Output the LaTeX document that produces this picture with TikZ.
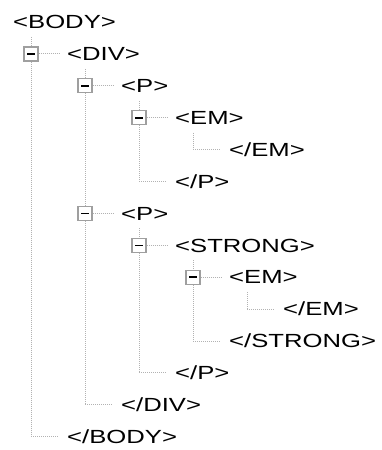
\documentclass[tikz,border=0pt]{standalone}
\usepackage{fontspec}
\setmainfont[FakeStretch=1.35]{Liberation Sans}
\usetikzlibrary{positioning}

\tikzset{
  tag/.style={anchor=west,inner sep=0pt,text height=13.5pt,text depth=0pt,
    font=\fontsize{19}{21}\selectfont},
  toggle/.style={draw=gray!75,line width=1.3pt,fill=white,minimum size=14pt,inner sep=0pt,
    path picture={\draw[black,line width=1.6pt]
      ([xshift=-4pt]path picture bounding box.center) --
      ([xshift=4pt]path picture bounding box.center);}},
  dots/.style={gray!60,line width=1pt,dash pattern=on 1pt off 1pt},
  stem/.style={dots,shorten <=8pt},
  twig/.style={dots,shorten >=8pt},
}

\begin{document}
\begin{tikzpicture}[x=1pt,y=-1pt]
	\useasboundingbox (0,0) rectangle (382,450);
	% opening tags
	\node[tag] at (13,22) (body) {<BODY>};
	\node[toggle] at (31,53.9) (b-div) {};
	\node[tag] at (67,53.9) (div) {<DIV>};
	\node[toggle] at (85,85.8) (b-p1) {};
	\node[tag] at (121,85.8) (p1) {<P>};
	\node[toggle] at (139,117.7) (b-em1) {};
	\node[tag] at (175,117.7) (em1) {<EM>};
	\coordinate (c-eem1) at (193,149.6);
	\node[tag] at (229,149.6) (eem1) {</EM>};
	\coordinate (c-ep1) at (139,181.5);
	\node[tag] at (175,181.5) (ep1) {</P>};
	\node[toggle] at (85,213.4) (b-p2) {};
	\node[tag] at (121,213.4) (p2) {<P>};
	\node[toggle] at (139,245.3) (b-strong) {};
	\node[tag] at (175,245.3) (strong) {<STRONG>};
	\node[toggle] at (193,277.2) (b-em2) {};
	\node[tag] at (229,277.2) (em2) {<EM>};
	\coordinate (c-eem2) at (247,309.1);
	\node[tag] at (283,309.1) (eem2) {</EM>};
	\coordinate (c-estrong) at (193,341);
	\node[tag] at (229,341) (estrong) {</STRONG>};
	\coordinate (c-ep2) at (139,372.9);
	\node[tag] at (175,372.9) (ep2) {</P>};
	\coordinate (c-ediv) at (85,404.8);
	\node[tag] at (121,404.8) (ediv) {</DIV>};
	\coordinate (c-ebody) at (31,436.7);
	\node[tag] at (67,436.7) (ebody) {</BODY>};
	% vertical lines
	\draw[stem] (b-div |- body.south) -- (b-div.north);
	\draw[dots] (b-div.south) -- (c-ebody);
	\draw[stem] (b-p1 |- div.south) -- (b-p1.north);
	\draw[dots] (b-p1.south) -- (b-p2.north);
	\draw[dots] (b-p2.south) -- (c-ediv);
	\draw[stem] (b-em1 |- p1.south) -- (b-em1.north);
	\draw[dots] (b-em1.south) -- (c-ep1);
	\draw[stem] (c-eem1 |- em1.south) -- (c-eem1);
	\draw[stem] (b-strong |- p2.south) -- (b-strong.north);
	\draw[dots] (b-strong.south) -- (c-ep2);
	\draw[stem] (b-em2 |- strong.south) -- (b-em2.north);
	\draw[dots] (b-em2.south) -- (c-estrong);
	\draw[stem] (c-eem2 |- em2.south) -- (c-eem2);
	% horizontal lines
	\draw[twig] (b-div.east) -- (div.west);
	\draw[twig] (b-p1.east) -- (p1.west);
	\draw[twig] (b-em1.east) -- (em1.west);
	\draw[twig] (c-eem1) -- (eem1.west);
	\draw[twig] (c-ep1) -- (ep1.west);
	\draw[twig] (b-p2.east) -- (p2.west);
	\draw[twig] (b-strong.east) -- (strong.west);
	\draw[twig] (b-em2.east) -- (em2.west);
	\draw[twig] (c-eem2) -- (eem2.west);
	\draw[twig] (c-estrong) -- (estrong.west);
	\draw[twig] (c-ep2) -- (ep2.west);
	\draw[twig] (c-ediv) -- (ediv.west);
	\draw[twig] (c-ebody) -- (ebody.west);
\end{tikzpicture}
\end{document}
